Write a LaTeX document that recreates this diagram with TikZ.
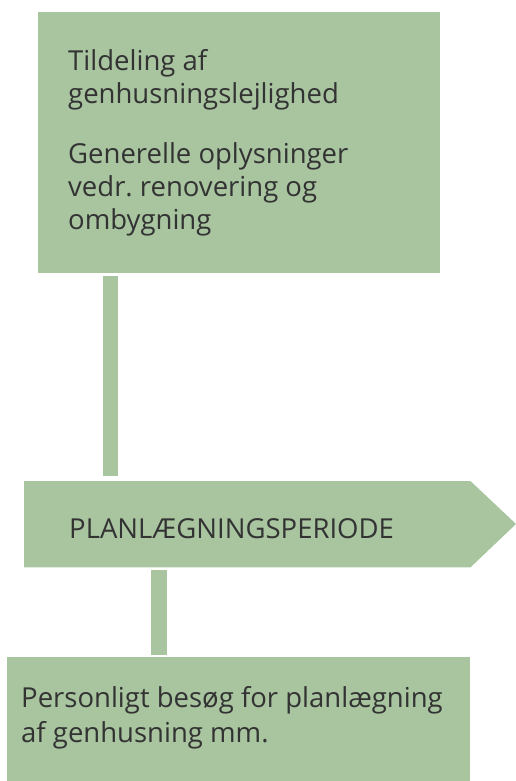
\documentclass[tikz,border=0pt]{standalone}
\usepackage{fontspec}
\setmainfont{Open Sans}
\frenchspacing
\definecolor{sage}{HTML}{A8C5A0}
\definecolor{ink}{HTML}{333333}
\tikzset{
  x=1pt, y=-1pt,
  fillbox/.style={fill=sage, draw=none, inner sep=0pt, anchor=north west},
  bar/.style={draw=sage, line width=15.5pt, line cap=butt},
  txt/.style={anchor=base west, inner sep=0pt, text=ink, font=\fontsize{27.5}{33}\selectfont},
}
\begin{document}
\begin{tikzpicture}
\useasboundingbox (0,0) rectangle (516,781);
% boxes
\node[fillbox, minimum width=402pt, minimum height=261pt] (top) at (38,12) {};
\node[fillbox, minimum width=446pt, minimum height=86pt] (phase) at (24,481) {};
\fill[sage] (phase.north west) -- (phase.north east) -- (516,524) -- (phase.south east) -- (phase.south west) -- cycle;
\node[fillbox, minimum width=463pt, minimum height=124pt] (bot) at (7,657) {};
% connectors
\coordinate (c1) at (110.5,0);
\coordinate (c2) at (159,0);
\draw[bar] ([yshift=-3pt]top.south -| c1) -- ([yshift=5pt]phase.north -| c1);
\draw[bar] ([yshift=-3pt]phase.south -| c2) -- ([yshift=2pt]bot.north -| c2);
% texts
\node[txt] (t1) at (68,71) {Tildeling af};
\node[txt] (t2) at (68,103) {genhusningslejlighed};
\node[txt] (t3) at (68,163) {Generelle oplysninger};
\node[txt] (t4) at (68,196) {vedr. renovering og};
\node[txt] (t5) at (68,229) {ombygning};
\node[txt] (t6) at (69,538) {PLANLÆGNINGSPERIODE};
\node[txt] (t7) at (21,707) {Personligt besøg for planlægning};
\node[txt] (t8) at (21,742) {af genhusning mm.};
\end{tikzpicture}
\end{document}
